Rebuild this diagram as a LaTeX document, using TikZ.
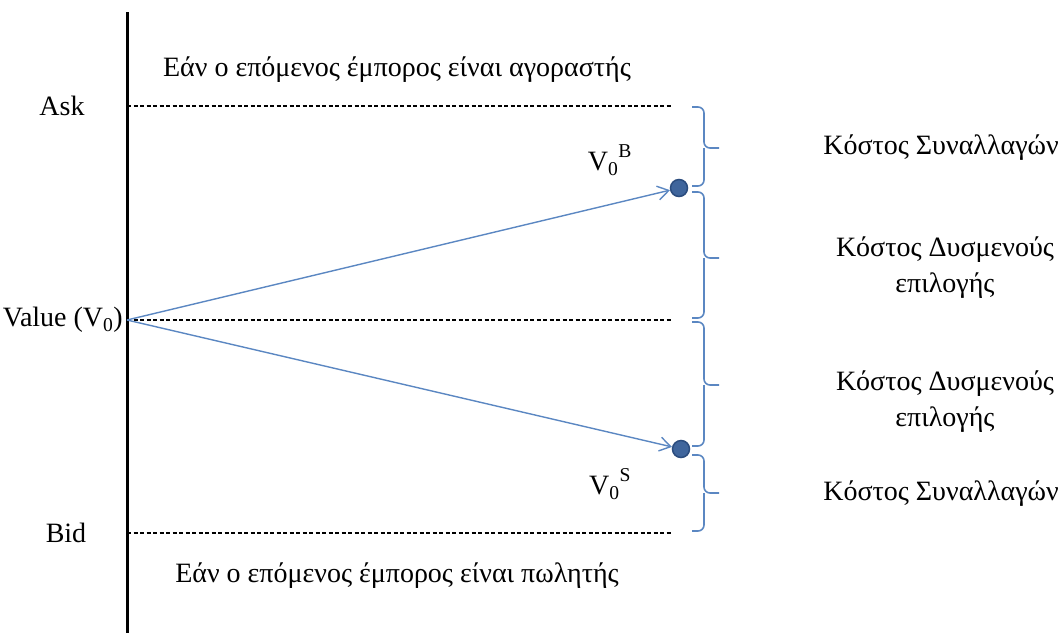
\documentclass[tikz,border=0pt]{standalone}
\usepackage{fontspec}
\setmainfont{Liberation Serif}
\usepackage{xcolor}
\usepackage{tikz}
\usetikzlibrary{arrows.meta, positioning}

\definecolor{lineblue}{HTML}{5B87C2}
\definecolor{dotblue}{HTML}{3F659C}
\definecolor{dotedge}{HTML}{2B4C7E}

\begin{document}
\begin{tikzpicture}[x=1pt, y=-1pt,
        every node/.style={font=\fontsize{28}{36}\selectfont},
        level/.style={black, line width=1.2pt, dash pattern=on 4pt off 2.5pt},
        move/.style={-{Straight Barb[length=11pt, width=14pt]}, draw=lineblue, line width=1.4pt},
        price/.style={circle, fill=dotblue, draw=dotedge, line width=1.5pt, inner sep=0pt, minimum size=17pt},
        cost/.style={draw=lineblue, line width=1.6pt, rounded corners=6pt},
        costlabel/.style={align=center}
    ]
    \useasboundingbox (0,0) rectangle (1064,633);

    % Axis
    \draw[black, line width=3pt] (127,12) -- (127,633);

    % Price levels
    \coordinate (ask) at (127,106);
    \coordinate (val) at (127,320);
    \coordinate (bid) at (127,533);
    \coordinate (ask_end) at (672,106);
    \coordinate (val_end) at (672,320);
    \coordinate (bid_end) at (672,533);
    \draw[level] (ask) -- (ask_end);
    \draw[level] (val) -- (val_end);
    \draw[level] (bid) -- (bid_end);

    \node (ask_label) at (62,106) {Ask};
    \node[anchor=east, inner sep=0pt] (val_label) at (123,320) {Value (V\textsubscript{0})};
    \node (bid_label) at (66,533) {Bid};

    % Next trader
    \node (buyer) at (397,70) {Εάν ο επόμενος έμπορος είναι αγοραστής};
    \node (seller) at (397,576) {Εάν ο επόμενος έμπορος είναι πωλητής};

    % Revised values
    \node[price] (vb) at (679,188) {};
    \node[price] (vs) at (681,449) {};
    \node (vb_label) at (610,160) {V\textsubscript{0}\raisebox{4pt}{\textsuperscript{B}}};
    \node (vs_label) at (610,484) {V\textsubscript{0}\raisebox{4pt}{\textsuperscript{S}}};
    \draw[move] (val) -- (vb);
    \draw[move] (val) -- (vs);

    % Costs
    \foreach \t/\m/\b in {107/148/186, 192/258/318, 322/385/446, 455/493/531}
        \draw[cost] (692,\t) -- (704,\t) -- (704,\m) -- (719,\m)
                    (704,\m) -- (704,\b) -- (692,\b);

    \node[costlabel] (tc_up) at (941,148) {Κόστος Συναλλαγών};
    \node[costlabel] (as_up) at (945,268) {Κόστος Δυσμενούς\\επιλογής};
    \node[costlabel] (as_down) at (945,402) {Κόστος Δυσμενούς\\επιλογής};
    \node[costlabel] (tc_down) at (941,494) {Κόστος Συναλλαγών};

\end{tikzpicture}
\end{document}
